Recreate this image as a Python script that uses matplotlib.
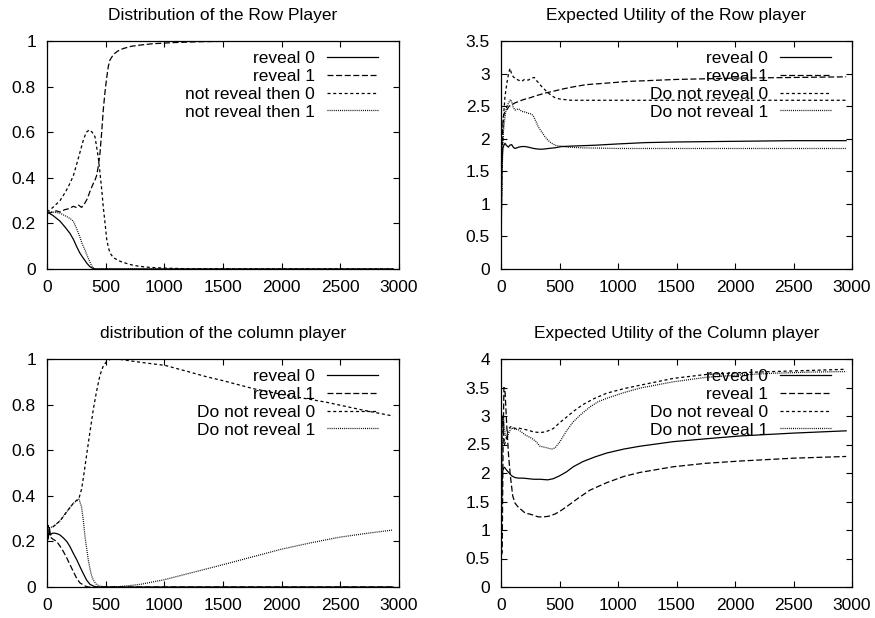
import matplotlib
matplotlib.use("Agg")
import matplotlib.pyplot as plt
from matplotlib.ticker import FuncFormatter, MultipleLocator

plt.rcParams['font.family'] = ['Liberation Sans', 'DejaVu Sans']
plt.rcParams['lines.scale_dashes'] = False

# ---------------- Panel 1: Distribution of the Row Player ----------------
p1_title = "Distribution of the Row Player"
p1_labels = ["reveal 0", "reveal 1", "not reveal then 0", "not reveal then 1"]
p1_r0_x = [0, 50, 111, 160, 196, 225, 253, 280, 310, 340, 366, 390, 409, 450, 1000, 2950]
p1_r0_y = [0.25, 0.235, 0.21, 0.18, 0.156, 0.13, 0.098, 0.07, 0.047, 0.025, 0.01, 0.003, 0, 0, 0, 0]
p1_r1_x = [0, 20, 50, 80, 111, 150, 190, 224, 250, 270, 295, 324, 345, 366, 390, 409, 423, 437,
           452, 466, 480, 495, 509, 523, 537, 565, 600, 650, 720, 793, 900, 1077, 1300, 1600, 2000, 2950]
p1_r1_y = [0.25, 0.245, 0.25, 0.255, 0.25, 0.26, 0.265, 0.275, 0.27, 0.28, 0.27, 0.29, 0.31, 0.34,
           0.37, 0.39, 0.41, 0.45, 0.51, 0.60, 0.70, 0.78, 0.84, 0.89, 0.917, 0.94, 0.955, 0.967,
           0.977, 0.982, 0.988, 0.993, 0.997, 0.999, 1.0, 1.0]
p1_n0_x = [0, 50, 111, 160, 196, 225, 253, 280, 310, 335, 361, 385, 409, 437, 452, 466, 480, 495,
           509, 523, 537, 565, 622, 680, 736, 800, 878, 1000, 1200, 2950]
p1_n0_y = [0.25, 0.27, 0.30, 0.34, 0.376, 0.41, 0.46, 0.51, 0.566, 0.60, 0.61, 0.60, 0.58, 0.49,
           0.42, 0.35, 0.27, 0.20, 0.13, 0.095, 0.07, 0.05, 0.034, 0.024, 0.016, 0.011, 0.007,
           0.004, 0.001, 0]
p1_n1_x = [0, 50, 111, 168, 200, 224, 250, 281, 300, 324, 345, 366, 380, 395, 410, 450, 2950]
p1_n1_y = [0.25, 0.25, 0.245, 0.23, 0.22, 0.21, 0.18, 0.14, 0.11, 0.083, 0.055, 0.03, 0.015,
           0.005, 0, 0, 0]

# ---------------- Panel 2: Expected Utility of the Row player ----------------
p2_title = "Expected Utility of the Row player"
p2_labels = ["reveal 0", "reveal 1", "Do not reveal 0", "Do not reveal 1"]
p2_r0_x = [0, 3, 8, 15, 25, 34, 45, 63, 75, 91, 105, 120, 150, 177, 205, 234, 280, 319, 360, 405,
           460, 519, 650, 803, 1000, 1231, 1500, 2000, 2500, 2950]
p2_r0_y = [0, 0.8, 1.6, 1.85, 1.9, 1.93, 1.9, 1.87, 1.9, 1.91, 1.87, 1.85, 1.87, 1.88, 1.88, 1.87,
           1.85, 1.84, 1.84, 1.85, 1.86, 1.88, 1.89, 1.90, 1.92, 1.94, 1.95, 1.96, 1.97, 1.97]
p2_r1_x = [0, 5, 12, 20, 30, 48, 70, 91, 120, 148, 190, 234, 300, 376, 450, 519, 600, 661, 730,
           803, 950, 1088, 1231, 1500, 2000, 2500, 2950]
p2_r1_y = [1.0, 1.8, 2.1, 2.34, 2.4, 2.44, 2.5, 2.52, 2.55, 2.57, 2.6, 2.62, 2.66, 2.70, 2.73,
           2.76, 2.79, 2.81, 2.83, 2.84, 2.86, 2.88, 2.89, 2.91, 2.93, 2.94, 2.95]
p2_n0_x = [0, 10, 20, 34, 50, 65, 77, 90, 105, 125, 148, 177, 200, 234, 260, 285, 300, 320, 348,
           376, 405, 433, 462, 500, 547, 600, 700, 900, 1500, 2950]
p2_n0_y = [0.5, 1.8, 2.3, 2.65, 2.85, 3.0, 3.08, 3.0, 2.95, 2.92, 2.90, 2.88, 2.91, 2.90, 2.93,
           2.94, 2.9, 2.86, 2.80, 2.75, 2.70, 2.66, 2.63, 2.61, 2.60, 2.59, 2.59, 2.59, 2.59, 2.59]
p2_n1_x = [0, 10, 20, 35, 48, 65, 80, 91, 105, 120, 150, 177, 205, 234, 260, 276, 300, 319, 350,
           376, 405, 433, 462, 490, 530, 576, 700, 1000, 2950]
p2_n1_y = [0.3, 1.5, 2.1, 2.35, 2.49, 2.55, 2.6, 2.57, 2.48, 2.44, 2.46, 2.42, 2.41, 2.39, 2.38,
           2.35, 2.26, 2.18, 2.1, 2.03, 1.97, 1.93, 1.90, 1.89, 1.88, 1.87, 1.86, 1.85, 1.85]

# ---------------- Panel 3: distribution of the column player ----------------
p3_title = "distribution of the column player"
p3_labels = ["reveal 0", "reveal 1", "Do not reveal 0", "Do not reveal 1"]
p3_r0_x = [0, 10, 20, 30, 45, 68, 90, 111, 140, 168, 196, 224, 253, 281, 310, 338, 366, 395, 423, 2950]
p3_r0_y = [0.25, 0.21, 0.26, 0.228, 0.236, 0.236, 0.233, 0.228, 0.215, 0.20, 0.177, 0.148, 0.12,
           0.089, 0.058, 0.03, 0.012, 0.004, 0, 0]
p3_r1_x = [0, 10, 26, 50, 82, 110, 139, 168, 196, 224, 253, 281, 310, 330, 352, 2950]
p3_r1_y = [0.25, 0.27, 0.22, 0.21, 0.20, 0.18, 0.156, 0.128, 0.098, 0.068, 0.038, 0.018, 0.009,
           0.003, 0, 0]
p3_n0_x = [0, 20, 54, 111, 168, 224, 273, 295, 310, 338, 366, 395, 423, 452, 480, 509, 537, 600,
           736, 850, 1006, 1200, 1361, 1500, 1757, 2000, 2384, 2700, 2950]
p3_n0_y = [0.26, 0.26, 0.265, 0.29, 0.33, 0.367, 0.39, 0.43, 0.48, 0.58, 0.68, 0.78, 0.86, 0.93,
           0.97, 0.99, 0.998, 1.0, 0.99, 0.982, 0.972, 0.945, 0.922, 0.905, 0.87, 0.845, 0.81,
           0.775, 0.75]
p3_n1_x = [0, 20, 54, 111, 168, 224, 273, 295, 310, 324, 338, 352, 366, 380, 395, 420, 450, 500,
           600, 700, 800, 1000, 1250, 1500, 1750, 2000, 2250, 2500, 2750, 2950]
p3_n1_y = [0.26, 0.26, 0.265, 0.29, 0.33, 0.367, 0.385, 0.35, 0.29, 0.22, 0.17, 0.118, 0.08, 0.05,
           0.03, 0.012, 0.004, 0.0, 0.001, 0.006, 0.012, 0.032, 0.065, 0.098, 0.132, 0.166,
           0.194, 0.219, 0.237, 0.25]

# ---------------- Panel 4: Expected Utility of the Column player ----------------
p4_title = "Expected Utility of the Column player"
p4_labels = ["reveal 0", "reveal 1", "Do not reveal 0", "Do not reveal 1"]
p4_r0_x = [0, 5, 12, 20, 30, 48, 70, 91, 120, 148, 190, 234, 280, 333, 400, 447, 500, 560, 618,
           700, 800, 903, 1050, 1188, 1330, 1473, 1750, 2043, 2500, 2950]
p4_r0_y = [0.5, 1.5, 2.0, 2.08, 2.1, 2.05, 2.0, 1.95, 1.92, 1.91, 1.91, 1.90, 1.89, 1.89, 1.88,
           1.90, 1.95, 2.02, 2.11, 2.2, 2.28, 2.35, 2.42, 2.47, 2.51, 2.55, 2.6, 2.65, 2.70, 2.74]
p4_r1_x = [0, 10, 18, 25, 34, 50, 65, 80, 100, 120, 148, 205, 262, 319, 360, 405, 462, 519, 561,
           661, 761, 903, 1050, 1188, 1473, 1750, 2043, 2500, 2950]
p4_r1_y = [0.55, 0.6, 2.5, 3.5, 3.45, 2.8, 2.3, 1.95, 1.6, 1.47, 1.40, 1.30, 1.27, 1.23, 1.23,
           1.24, 1.28, 1.35, 1.41, 1.56, 1.70, 1.83, 1.94, 2.01, 2.11, 2.17, 2.21, 2.26, 2.29]
p4_n0_x = [0, 5, 10, 20, 30, 45, 60, 75, 91, 120, 148, 190, 234, 280, 333, 380, 447, 500, 560, 618,
           700, 800, 903, 1050, 1188, 1473, 1758, 2043, 2328, 2650, 2950]
p4_n0_y = [0.5, 2.0, 3.0, 2.8, 2.5, 2.6, 2.75, 2.8, 2.82, 2.78, 2.79, 2.77, 2.75, 2.72, 2.71, 2.72,
           2.78, 2.88, 2.98, 3.08, 3.2, 3.31, 3.40, 3.48, 3.54, 3.66, 3.73, 3.76, 3.78, 3.80, 3.82]
p4_n1_x = [0, 5, 10, 20, 34, 50, 70, 91, 120, 148, 175, 205, 262, 300, 333, 376, 433, 462, 504,
           560, 618, 690, 761, 830, 903, 1050, 1188, 1473, 1758, 2043, 2328, 2650, 2950]
p4_n1_y = [0.3, 1.5, 2.8, 3.0, 2.7, 2.6, 2.72, 2.79, 2.77, 2.76, 2.72, 2.67, 2.61, 2.55, 2.47,
           2.45, 2.42, 2.44, 2.55, 2.74, 2.90, 3.04, 3.16, 3.25, 3.31, 3.41, 3.49, 3.60, 3.68,
           3.72, 3.75, 3.77, 3.78]

# line styles (gnuplot-like): solid, long dash, short dash, dotted
styles = [dict(linestyle='-'),
          dict(linestyle=(0, (4.3, 1.9))),
          dict(linestyle=(0, (2.2, 1.9))),
          dict(linestyle=(0, (0.7, 0.8)))]

panels = [
    (p1_title, p1_labels, [(p1_r0_x, p1_r0_y), (p1_r1_x, p1_r1_y), (p1_n0_x, p1_n0_y), (p1_n1_x, p1_n1_y)],
     (0, 1), 0.2, [47, 41, 399, 269]),
    (p2_title, p2_labels, [(p2_r0_x, p2_r0_y), (p2_r1_x, p2_r1_y), (p2_n0_x, p2_n0_y), (p2_n1_x, p2_n1_y)],
     (0, 3.5), 0.5, [501, 41, 852, 269]),
    (p3_title, p3_labels, [(p3_r0_x, p3_r0_y), (p3_r1_x, p3_r1_y), (p3_n0_x, p3_n0_y), (p3_n1_x, p3_n1_y)],
     (0, 1), 0.2, [47, 359, 399, 587]),
    (p4_title, p4_labels, [(p4_r0_x, p4_r0_y), (p4_r1_x, p4_r1_y), (p4_n0_x, p4_n0_y), (p4_n1_x, p4_n1_y)],
     (0, 4), 0.5, [501, 359, 852, 587]),
]

W, H = 875, 618
FS = 12.5
fig = plt.figure(figsize=(W / 100, H / 100), dpi=100)
fmt = FuncFormatter(lambda v, p: "%g" % v)

for title, labels, series, ylim, ystep, (l, t, r, b) in panels:
    ax = fig.add_axes([l / W, 1 - b / H, (r - l) / W, (b - t) / H])
    for (xs, ys), lab, st in zip(series, labels, styles):
        ax.plot(xs, ys, color='black', lw=0.9, label=lab, **st)
    ax.set_xlim(0, 3000)
    ax.set_ylim(*ylim)
    ax.xaxis.set_major_locator(MultipleLocator(500))
    ax.yaxis.set_major_locator(MultipleLocator(ystep))
    ax.xaxis.set_major_formatter(fmt)
    ax.yaxis.set_major_formatter(fmt)
    ax.tick_params(direction='in', length=4, width=0.8, top=True, right=True,
                   labelsize=FS, colors='black')
    ax.tick_params(axis='y', pad=8)
    ax.tick_params(axis='x', pad=8)
    for s in ax.spines.values():
        s.set_linewidth(0.9)
    ax.set_title(title, fontsize=FS, pad=15)
    ax.legend(loc='upper right', bbox_to_anchor=(0.94, 0.958), borderaxespad=0, borderpad=0,
              frameon=False, markerfirst=False, handlelength=2.93, handletextpad=0.69,
              labelspacing=0.16, fontsize=FS)

fig.savefig("out.png", dpi=100)
